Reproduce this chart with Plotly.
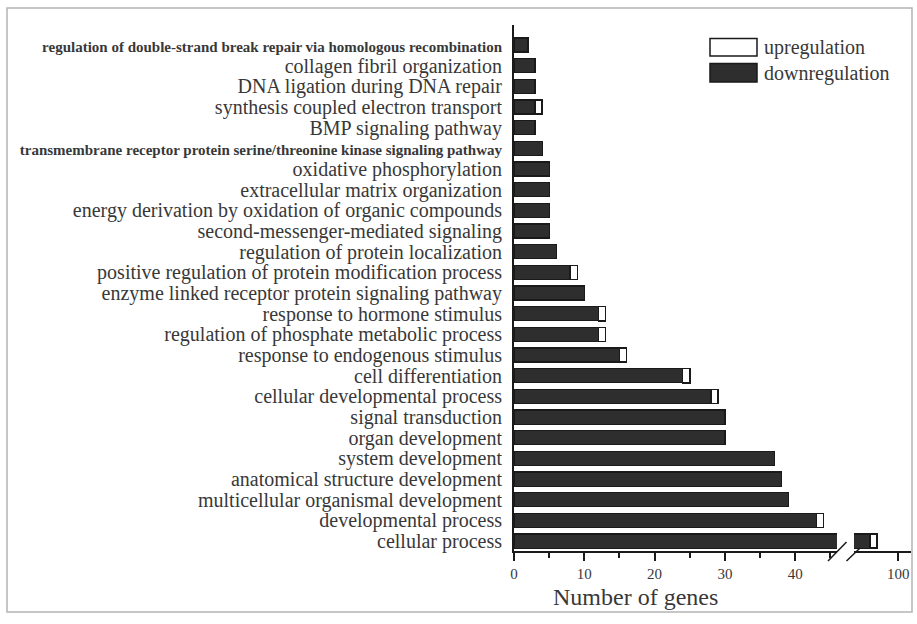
import plotly.graph_objects as go

categories = [
    "regulation of double-strand break repair via homologous recombination",
    "collagen fibril organization",
    "DNA ligation during DNA repair",
    "synthesis coupled electron transport",
    "BMP signaling pathway",
    "transmembrane receptor protein serine/threonine kinase signaling pathway",
    "oxidative phosphorylation",
    "extracellular matrix organization",
    "energy derivation by oxidation of organic compounds",
    "second-messenger-mediated signaling",
    "regulation of protein localization",
    "positive regulation of protein modification process",
    "enzyme linked receptor protein signaling pathway",
    "response to hormone stimulus",
    "regulation of phosphate metabolic process",
    "response to endogenous stimulus",
    "cell differentiation",
    "cellular developmental process",
    "signal transduction",
    "organ development",
    "system development",
    "anatomical structure development",
    "multicellular organismal development",
    "developmental process",
    "cellular process",
]
downregulation = [2, 3, 3, 3, 3, 4, 5, 5, 5, 5, 6, 8, 10, 12, 12, 15, 24, 28, 30, 30, 37, 38, 39, 43, 96]
upregulation = [0, 0, 0, 1, 0, 0, 0, 0, 0, 0, 0, 1, 0, 1, 1, 1, 1, 1, 0, 0, 0, 0, 0, 1, 1]
small_labels = [
    "regulation of double-strand break repair via homologous recombination",
    "transmembrane receptor protein serine/threonine kinase signaling pathway",
]
left_ticks = [0, 10, 20, 30, 40]
right_ticks = [100]

W, H = 917, 624
L, R, T, B = 514, 6, 25, 73
pw, ph = W - L - R, H - T - B


def px(x):
    return (x - L) / pw


def py(y):
    return (H - B - y) / ph


FONT = "Liberation Serif"
TXT = "#383838"
DARK = "#2e2e2e"
EDGE = "#1a1a1a"

ticktext = []
for c in categories:
    if c in small_labels:
        ticktext.append('<span style="font-size:15px"><b>%s</b></span>' % c)
    else:
        ticktext.append(c)

up_vals = [v if v else None for v in upregulation]

fig = go.Figure()
for xa in ["x", "x2"]:
    fig.add_trace(go.Bar(
        y=categories, x=downregulation, orientation="h", name="downregulation",
        xaxis=xa, yaxis="y",
        marker=dict(color=DARK, line=dict(color=EDGE, width=1.2)),
        showlegend=False,
    ))
    fig.add_trace(go.Bar(
        y=categories, x=up_vals, orientation="h", name="upregulation",
        xaxis=xa, yaxis="y",
        marker=dict(color="white", line=dict(color=EDGE, width=1.5)),
        showlegend=False,
    ))

left_end = 837
right_start = 854
scale = 7.03

fig.update_layout(
    width=W, height=H,
    margin=dict(l=L, r=R, t=T, b=B, pad=0, autoexpand=False),
    paper_bgcolor="white", plot_bgcolor="white",
    barmode="stack", bargap=0.32,
    font=dict(family=FONT, color=TXT, size=20),
    showlegend=False,
    xaxis=dict(
        domain=[0, px(left_end)], range=[0, (left_end - L) / scale],
        anchor="y", showgrid=False, zeroline=False, automargin=False,
        showline=True, linecolor=EDGE, linewidth=1.5,
        tickmode="array", tickvals=left_ticks, ticks="outside", ticklen=8,
        tickwidth=1.5, tickcolor=EDGE,
        minor=dict(dtick=5, tick0=0, ticks="outside", ticklen=5, tickwidth=1.5, tickcolor=EDGE),
        tickfont=dict(size=15, family=FONT, color=TXT),
    ),
    xaxis2=dict(
        domain=[px(right_start), 1],
        range=[100 - (898.3 - right_start) / scale, 100 + (L + pw - 898.3) / scale],
        anchor="y", showgrid=False, zeroline=False, automargin=False,
        showline=True, linecolor=EDGE, linewidth=1.5,
        tickmode="array", tickvals=right_ticks, ticks="outside", ticklen=8,
        tickwidth=1.5, tickcolor=EDGE,
        tickfont=dict(size=15, family=FONT, color=TXT),
    ),
    yaxis=dict(
        type="category", categoryorder="array", categoryarray=categories,
        range=[24.48, -0.97], showgrid=False, zeroline=False, automargin=False,
        showline=True, linecolor=EDGE, linewidth=2,
        tickmode="array", tickvals=categories, ticktext=ticktext,
        ticks="", ticklabelstandoff=6,
        tickfont=dict(size=20, family=FONT, color=TXT),
    ),
)

shapes = [
    # outer frame
    dict(type="rect", xref="paper", yref="paper",
         x0=px(7), x1=px(912), y0=py(612), y1=py(8),
         line=dict(color="#b4b4b4", width=1.5), fillcolor="rgba(0,0,0,0)", layer="below"),
    # axis break marks
    dict(type="line", xref="paper", yref="paper",
         x0=px(828), y0=py(561), x1=px(846.5), y1=py(542),
         line=dict(color=EDGE, width=1.5)),
    dict(type="line", xref="paper", yref="paper",
         x0=px(846.5), y0=py(561), x1=px(860), y1=py(548),
         line=dict(color=EDGE, width=1.5)),
    # legend boxes
    dict(type="rect", xref="paper", yref="paper",
         x0=px(710), x1=px(757), y0=py(56), y1=py(38.5),
         line=dict(color=EDGE, width=1.5), fillcolor="white"),
    dict(type="rect", xref="paper", yref="paper",
         x0=px(710), x1=px(757), y0=py(82), y1=py(63.5),
         line=dict(color=EDGE, width=1.5), fillcolor=DARK),
]

annotations = [
    dict(text="upregulation", xref="paper", yref="paper", x=px(762), y=py(47.5),
         xanchor="left", yanchor="middle", showarrow=False,
         font=dict(size=20, family=FONT, color=TXT)),
    dict(text="downregulation", xref="paper", yref="paper", x=px(762), y=py(73),
         xanchor="left", yanchor="middle", showarrow=False,
         font=dict(size=20, family=FONT, color=TXT)),
    dict(text="Number of genes", xref="paper", yref="paper", x=px(635.5), y=py(597),
         xanchor="center", yanchor="middle", showarrow=False,
         font=dict(size=24, family=FONT, color=TXT)),
]

fig.update_layout(shapes=shapes, annotations=annotations)

fig.write_html("out.html", config={"displayModeBar": False},
               post_script="document.body.style.margin='0';")
